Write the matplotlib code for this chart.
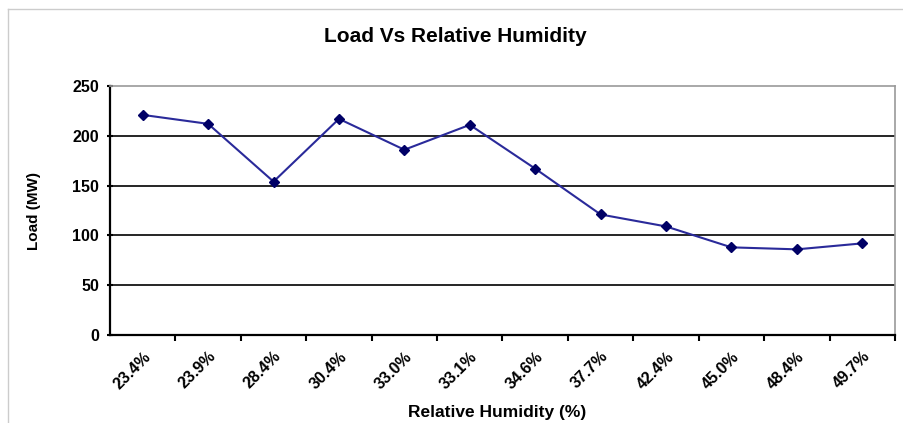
import matplotlib
matplotlib.use("Agg")
import matplotlib.pyplot as plt
from matplotlib.lines import Line2D

plt.rcParams['font.family'] = ['Liberation Sans', 'DejaVu Sans']

categories = ["23.4%", "23.9%", "28.4%", "30.4%", "33.0%", "33.1%",
              "34.6%", "37.7%", "42.4%", "45.0%", "48.4%", "49.7%"]
load_mw = [221, 212, 154, 217, 186, 211, 167, 121, 109, 88, 86, 92]
y_ticks = [0, 50, 100, 150, 200, 250]

fig = plt.figure(figsize=(9.04, 4.23), dpi=100)
ax = fig.add_axes([110/904, 1-335/423, (895-110)/904, (335-86)/423])

x = list(range(len(categories)))
ax.plot(x, load_mw, color="#2a2a9a", lw=1.5, marker="D", markersize=5,
        markerfacecolor="#000066", markeredgecolor="#000066", zorder=3)

ax.set_xlim(-0.5, len(categories) - 0.5)
ax.set_ylim(0, 250)
ax.set_yticks(y_ticks)
for v in y_ticks[1:-1]:
    ax.axhline(v, color="black", lw=1.2, zorder=1)

ax.set_xticks(x)
ax.set_xticklabels(categories, rotation=45, ha="right", va="top",
                   rotation_mode="anchor", fontsize=11.5, fontweight="bold")
ax.tick_params(axis="x", length=0, pad=10)
ax.set_xticks([i + 0.5 for i in x], minor=True)
ax.tick_params(axis="x", which="minor", length=4, width=1.5, direction="out")
ax.tick_params(axis="y", length=4, width=1.5, direction="inout", labelsize=11.5, pad=6)
for lab in ax.get_yticklabels():
    lab.set_fontweight("bold")

for s in ["left", "bottom"]:
    ax.spines[s].set_color("black")
    ax.spines[s].set_linewidth(1.6)
for s in ["top", "right"]:
    ax.spines[s].set_color("#999999")
    ax.spines[s].set_linewidth(1.2)

fig.text(455/904, 1-36/423, "Load Vs Relative Humidity", ha="center", va="center",
         fontsize=15, fontweight="bold")
fig.text(34/904, 1-211/423, "Load (MW)", ha="center", va="center", rotation=90,
         fontsize=11, fontweight="bold")
fig.text(497/904, 1-412/423, "Relative Humidity (%)", ha="center", va="center",
         fontsize=12.5, fontweight="bold")

# outer chart border (top and left visible)
fig.add_artist(Line2D([8/904, 8/904], [0, 1-9/423], transform=fig.transFigure,
                      color="#cccccc", lw=1))
fig.add_artist(Line2D([8/904, 1], [1-9/423, 1-9/423], transform=fig.transFigure,
                      color="#cccccc", lw=1))

fig.savefig("out.png", dpi=100)
